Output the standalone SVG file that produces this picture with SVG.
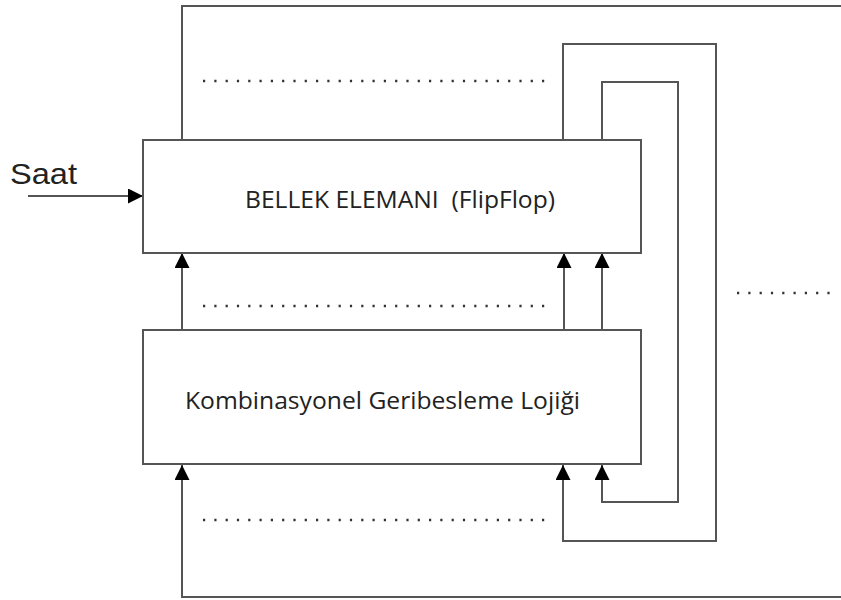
<svg xmlns="http://www.w3.org/2000/svg" width="841" height="600" viewBox="0 0 841 600">
<style>
.box{fill:#fff;stroke:#555;stroke-width:2}
.ln{fill:none;stroke:#555;stroke-width:2}
.dot{fill:none;stroke:#333;stroke-width:2.4;stroke-dasharray:2.2 9.1}
.lbl{font-family:"Open Sans","Noto Sans",sans-serif;font-size:24px;fill:#222;white-space:pre}
</style>
<defs>
<marker id="ah" markerWidth="15" markerHeight="15" refX="15" refY="7.5" orient="auto" markerUnits="userSpaceOnUse">
<path d="M0,0 L15,7.5 L0,15 Z" fill="#000"/>
</marker>
</defs>
<rect width="841" height="600" fill="#fff"/>
<g id="connectors">
<path class="ln" d="M182,140 V6 H841"/>
<path class="ln" d="M841,597 H182 V465" marker-end="url(#ah)"/>
<path class="ln" d="M563,140 V44 H716 V541 H563 V465" marker-end="url(#ah)"/>
<path class="ln" d="M602,140 V82 H678 V502 H602 V465" marker-end="url(#ah)"/>
<path class="ln" d="M182,330 V253" marker-end="url(#ah)"/>
<path class="ln" d="M564,330 V253" marker-end="url(#ah)"/>
<path class="ln" d="M602,330 V253" marker-end="url(#ah)"/>
<path class="ln" d="M28,196 H143" marker-end="url(#ah)"/>
<line class="dot" x1="203" y1="81" x2="550" y2="81"/>
<line class="dot" x1="203" y1="306" x2="550" y2="306"/>
<line class="dot" x1="203" y1="520" x2="550" y2="520"/>
<line class="dot" x1="737" y1="293" x2="835" y2="293"/>
</g>
<g id="bellek">
<rect class="box" x="143" y="140" width="498" height="113"/>
<text class="lbl" x="245" y="208" textLength="310" lengthAdjust="spacingAndGlyphs" xml:space="preserve">BELLEK ELEMANI  (FlipFlop)</text>
</g>
<g id="kombinasyonel">
<rect class="box" x="143" y="330" width="498" height="134"/>
<text class="lbl" x="185" y="409" textLength="395" lengthAdjust="spacingAndGlyphs">Kombinasyonel Geribesleme Lojiği</text>
</g>
<text x="10" y="184" font-family="Liberation Sans, Arial, sans-serif" font-size="30" fill="#222" textLength="67" lengthAdjust="spacingAndGlyphs">Saat</text>
</svg>
